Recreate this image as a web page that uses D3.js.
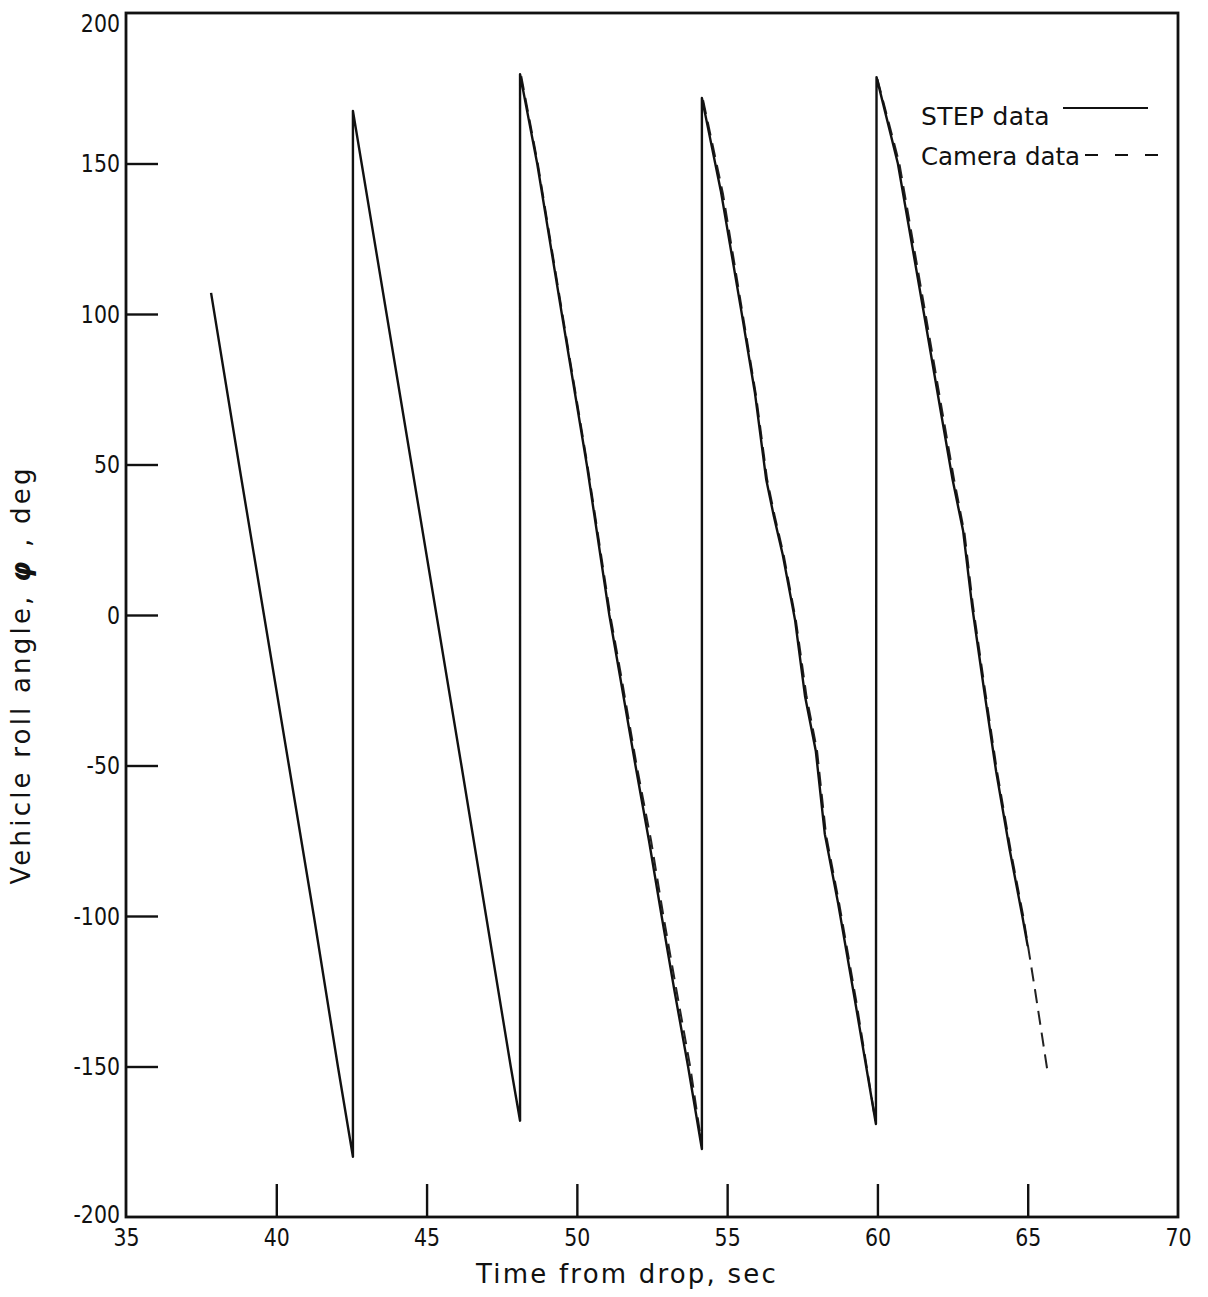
<!DOCTYPE html>
<html>
<head>
<meta charset="utf-8">
<script src="https://cdn.jsdelivr.net/npm/d3@7"></script>
<style>
  html, body { margin: 0; padding: 0; background: #fff; }
  svg text { font-family: "DejaVu Sans", "Liberation Sans", sans-serif; fill: #111; }
</style>
</head>
<body>
<script>
// ---- data ----
const xTicks = [35, 40, 45, 50, 55, 60, 65, 70];
const yTicks = [-200, -150, -100, -50, 0, 50, 100, 150, 200];

// STEP data (solid), time in s, roll in deg
const stepTime = [37.83, 38.76, 39.59, 40.42, 41.25, 42.05, 42.55,
  42.55, 42.84, 43.67, 44.50, 45.33, 46.16, 46.98, 47.80, 48.11,
  48.11, 48.68, 49.50, 50.33, 51.08, 51.43, 51.95, 52.40, 52.82, 53.25, 53.70, 54.16,
  54.16, 54.79, 55.46, 55.92, 56.30, 56.55, 56.85, 57.26, 57.59, 57.95, 58.25, 58.69, 59.25, 59.95,
  59.97, 60.68, 61.55, 62.10, 62.50, 62.85, 63.15, 63.55, 63.95, 64.40, 64.82, 65.00];
const stepRoll = [107, 50, 0, -50, -100, -150, -180,
  167.5, 150, 100, 50, 0, -50, -100, -150, -168,
  179.7, 150, 100, 50, 0, -20, -50, -75, -100, -125, -150, -177.4,
  171.8, 140.9, 101.7, 74.1, 45, 33, 20, -1.7, -26.9, -45.2, -72.8, -95.7, -127.9, -169.1,
  178.7, 150, 100, 68, 45, 28, 3, -25, -52, -78, -100, -110];

// Camera data (dashed); null separates segments
const cameraTime = [48.15, 48.70, 49.52, 50.35, 51.11, 51.47, 51.99, 52.47, 52.88, 53.32, 53.77, 54.14, null,
  54.20, 54.86, 55.50, 55.96, 56.33, 56.58, 56.88, 57.29, 57.64, 57.99, 58.29, 58.73, 59.29, 59.93, null,
  60.00, 60.73, 61.60, 62.15, 62.55, 62.90, 63.18, 63.58, 63.98, 64.43, 64.85, 65.25, 65.68];
const cameraRoll = [179, 150, 100, 50, 0, -20, -50, -75, -100, -125, -150, -175, null,
  171, 140, 101, 73, 45, 33, 20, -2, -27, -45, -73, -96, -128, -168, null,
  178, 150, 100, 68, 45, 27, 3, -25, -52, -78, -100, -125, -153];

const legendLabels = ["STEP data", "Camera data"];
const xLabel = "Time from drop, sec";

// ---- chart ----
const W = 1208, H = 1297;
const pL = 126, pR = 1178, pT = 13, pB = 1217;
const sx = 0.82; // horizontal compression of tick digits

const svg = d3.select("body").append("svg").attr("width", W).attr("height", H);

const x = d3.scaleLinear().domain([35, 70]).range([pL, pR]);
const y = d3.scaleLinear().domain([-200, 200]).range([pB, pT]);

// frame
svg.append("rect").attr("x", pL).attr("y", pT)
  .attr("width", pR - pL).attr("height", pB - pT)
  .attr("fill", "none").attr("stroke", "#111").attr("stroke-width", 2.8);

// y axis
const gy = svg.append("g").attr("transform", `translate(${pL},0)`)
  .call(d3.axisLeft(y).tickValues(yTicks).tickSize(-32).tickPadding(6).tickFormat(d3.format("d")));
gy.select(".domain").remove();
gy.selectAll(".tick line").attr("stroke", "#111").attr("stroke-width", 2.4)
  .filter(d => Math.abs(d) === 200).remove();
gy.selectAll(".tick text").attr("font-size", 25).style("fill", "#111")
  .text(d => d < 0 ? "-" + Math.abs(d) : d)
  .attr("x", -6 / sx).attr("transform", `scale(${sx},1)`);
gy.selectAll(".tick text").filter(d => d === 200).attr("dy", "0.72em");
gy.selectAll(".tick text").filter(d => d === -200).attr("dy", "0.2em");

// x axis
const gx = svg.append("g").attr("transform", `translate(0,${pB})`)
  .call(d3.axisBottom(x).tickValues(xTicks).tickSize(-33).tickPadding(11).tickFormat(d3.format("d")));
gx.select(".domain").remove();
gx.selectAll(".tick line").attr("stroke", "#111").attr("stroke-width", 2.4)
  .filter(d => d === 35 || d === 70).remove();
gx.selectAll(".tick text").attr("font-size", 25).style("fill", "#111")
  .attr("transform", `scale(${sx},1)`);

// axis titles
svg.append("text").attr("x", 627).attr("y", 1283).attr("text-anchor", "middle")
  .attr("font-size", 26).attr("letter-spacing", 2.2).text(xLabel);

const yl = svg.append("text")
  .attr("transform", "translate(30,675) rotate(-90)")
  .attr("text-anchor", "middle").attr("font-size", 26).attr("letter-spacing", 3.2);
yl.append("tspan").text("Vehicle roll angle, ");
yl.append("tspan").attr("font-weight", "bold").attr("font-style", "italic").text("\u03c6");
yl.append("tspan").text(" ,  deg");

// lines
const stepData = stepTime.map((t, i) => [t, stepRoll[i]]);
const camData = cameraTime.map((t, i) => [t, cameraRoll[i]]);

const line = d3.line()
  .defined(d => d[0] !== null && d[1] !== null)
  .x(d => x(d[0])).y(d => y(d[1]));

svg.append("path").datum(camData).attr("d", line)
  .attr("fill", "none").attr("stroke", "#222").attr("stroke-width", 2)
  .attr("stroke-dasharray", "14,8");

svg.append("path").datum(stepData).attr("d", line)
  .attr("fill", "none").attr("stroke", "#111").attr("stroke-width", 2.4)
  .attr("stroke-linejoin", "round");

// legend
svg.append("text").attr("x", 921).attr("y", 125).attr("font-size", 25).attr("letter-spacing", 0.3).text(legendLabels[0]);
svg.append("line").attr("x1", 1063).attr("x2", 1148).attr("y1", 108).attr("y2", 108)
  .attr("stroke", "#111").attr("stroke-width", 1.8);
svg.append("text").attr("x", 921).attr("y", 165).attr("font-size", 24.5).attr("letter-spacing", 0).text(legendLabels[1]);
svg.append("line").attr("x1", 1085).attr("x2", 1158).attr("y1", 155).attr("y2", 155)
  .attr("stroke", "#111").attr("stroke-width", 2).attr("stroke-dasharray", "13,17");
</script>
</body>
</html>
